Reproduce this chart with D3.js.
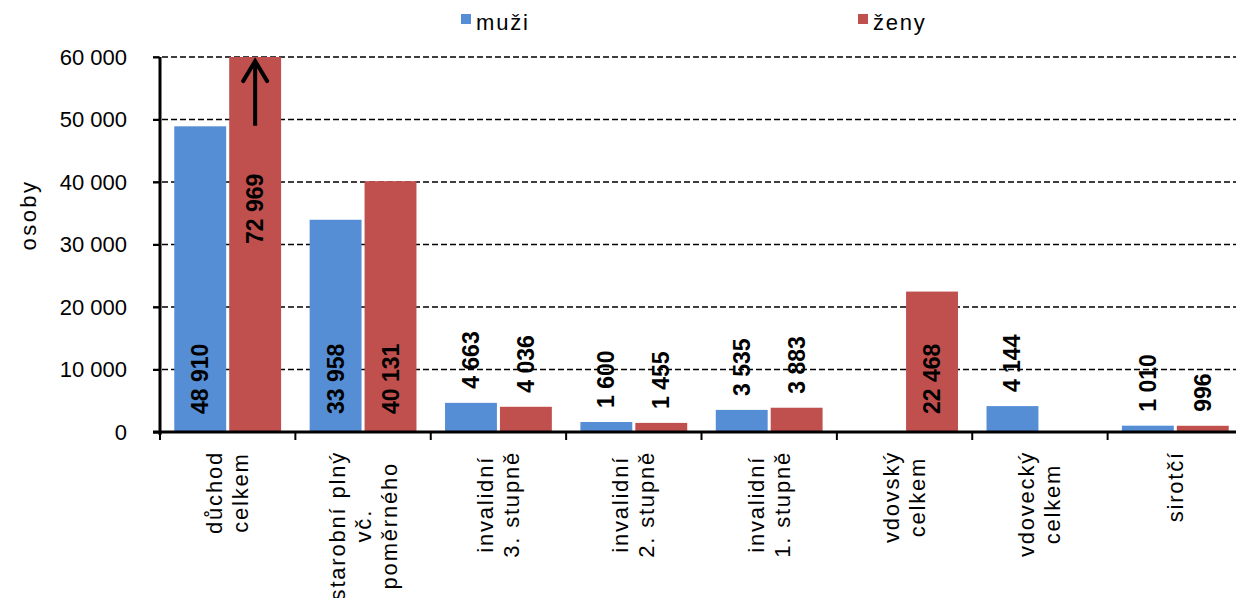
<!DOCTYPE html>
<html>
<head>
<meta charset="utf-8">
<script src="https://cdn.jsdelivr.net/npm/d3@7"></script>
<style>
  html, body { margin: 0; padding: 0; background: #fff; }
  svg { display: block; font-family: "Liberation Sans", Arial, sans-serif; }
</style>
</head>
<body>
<svg id="chart" width="1236" height="598"></svg>
<script>
// Pension recipients by type of pension, men vs women
const categories = [
  ["důchod", "celkem"],
  ["starobní plný", "vč.", "poměrného"],
  ["invalidní", "3. stupně"],
  ["invalidní", "2. stupně"],
  ["invalidní", "1. stupně"],
  ["vdovský", "celkem"],
  ["vdovecký", "celkem"],
  ["sirotčí"]
];
const seriesNames = ["muži", "ženy"];
const muzi = [48910, 33958, 4663, 1600, 3535, null, 4144, 1010];
const zeny = [72969, 40131, 4036, 1455, 3883, 22468, null, 996];
const yTicks = [0, 10000, 20000, 30000, 40000, 50000, 60000];
const yTitle = "osoby";

(function () {
const colors = { "muži": "#558ED5", "ženy": "#C0504D" };

const svg = d3.select("#chart");
const pLeft = 160, pRight = 1243, pTop = 57, pBottom = 432;

const cz = d3.formatLocale({ decimal: ",", thousands: " ", grouping: [3], currency: ["", " Kč"] });
const fmt = cz.format(",d");

const x0 = d3.scaleBand().domain(d3.range(categories.length)).range([pLeft, pRight]).padding(0);
const x1 = d3.scaleBand().domain(seriesNames).range([0, x0.bandwidth()])
  .paddingInner(0.055).paddingOuter(0.26);
const y = d3.scaleLinear().domain([0, 60000]).range([pBottom, pTop]);

const data = [];
categories.forEach((c, i) => {
  data.push({ i, s: "muži", v: muzi[i] });
  data.push({ i, s: "ženy", v: zeny[i] });
});
const present = data.filter(d => d.v != null);

// clip region: bars above the axis maximum are cut at the top
svg.append("defs").append("clipPath").attr("id", "plot-clip")
  .append("rect").attr("x", pLeft).attr("y", pTop).attr("width", pRight - pLeft).attr("height", pBottom - pTop);

// dashed horizontal gridlines
svg.append("g").selectAll("line").data(yTicks.filter(t => t > 0)).join("line")
  .attr("x1", pLeft - 7).attr("x2", pRight)
  .attr("y1", d => y(d)).attr("y2", d => y(d))
  .attr("stroke", "#000").attr("stroke-width", 1.6).attr("stroke-dasharray", "6,3");

// bars
svg.append("g").attr("clip-path", "url(#plot-clip)")
  .selectAll("rect").data(present).join("rect")
  .attr("x", d => x0(d.i) + x1(d.s))
  .attr("width", x1.bandwidth())
  .attr("y", d => y(d.v))
  .attr("height", d => y(0) - y(d.v))
  .attr("fill", d => colors[d.s]);

// y axis
const yAxis = d3.axisLeft(y).tickValues(yTicks).tickFormat(fmt).tickSize(7).tickPadding(26);
const gy = svg.append("g").attr("transform", `translate(${pLeft},0)`).call(yAxis);
gy.select(".domain").attr("stroke", "#000").attr("stroke-width", 3).attr("d", `M0,${pTop}V${pBottom + 3}`);
gy.selectAll(".tick line").attr("stroke", "#000").attr("stroke-width", 2);
gy.selectAll(".tick text").attr("font-size", 22).attr("fill", "#000")
  .attr("font-family", "Liberation Sans, Arial, sans-serif");

// x axis line and category boundary ticks
const gx = svg.append("g");
gx.append("line").attr("x1", pLeft - 7).attr("x2", pRight).attr("y1", pBottom).attr("y2", pBottom)
  .attr("stroke", "#000").attr("stroke-width", 3);
gx.selectAll("line.tk").data(d3.range(categories.length + 1)).join("line").attr("class", "tk")
  .attr("x1", d => pLeft + d * x0.step()).attr("x2", d => pLeft + d * x0.step())
  .attr("y1", pBottom).attr("y2", pBottom + 8)
  .attr("stroke", "#000").attr("stroke-width", 2);

// rotated multi-line category labels
const lineGap = 26;
categories.forEach((lines, i) => {
  const cx = x0(i) + x0.bandwidth() / 2;
  const g = svg.append("g");
  const texts = lines.map((t, k) => g.append("text")
    .text(t)
    .attr("font-size", 22).attr("letter-spacing", "1.8px")
    .attr("text-anchor", "middle").attr("dominant-baseline", "central"));
  const maxLen = d3.max(texts, t => t.node().getComputedTextLength());
  const cy = pBottom + 19 + maxLen / 2;
  texts.forEach((t, k) => {
    const lx = cx + (k - (lines.length - 1) / 2) * lineGap;
    t.attr("transform", `translate(${lx},${cy}) rotate(-90)`);
  });
});

// value labels (rotated, bold)
const axisMax = y.domain()[1];
svg.append("g").selectAll("text").data(present).join("text")
  .text(d => fmt(d.v))
  .attr("font-size", 23).attr("font-weight", "bold")
  .attr("dominant-baseline", "central")
  .attr("text-anchor", d => d.v > axisMax ? "middle" : "start")
  .attr("transform", d => {
    const bx = x0(d.i) + x1(d.s) + x1.bandwidth() / 2;
    let by;
    if (d.v > axisMax) by = y(35700);           // off-scale bar: label in the visible part
    else if (d.v > 15000) by = y(0) - 18;        // tall bars: label inside at the base
    else by = y(d.v) - 14;                        // short bars: label above the bar
    return `translate(${bx},${by}) rotate(-90)`;
  });

// arrow marking the off-scale bar
const over = present.filter(d => d.v > axisMax);
const arrowG = svg.append("g");
over.forEach(d => {
  const ax = x0(d.i) + x1(d.s) + x1.bandwidth() / 2;
  const yTip = y(59500), yTail = y(49000);
  arrowG.append("line").attr("x1", ax).attr("x2", ax).attr("y1", yTail).attr("y2", yTip + 1)
    .attr("stroke", "#000").attr("stroke-width", 4);
  arrowG.append("path")
    .attr("d", `M${ax - 12},${yTip + 21}L${ax},${yTip + 1}L${ax + 12},${yTip + 21}`)
    .attr("fill", "none").attr("stroke", "#000").attr("stroke-width", 4)
    .attr("stroke-linejoin", "miter").attr("stroke-linecap", "round");
});

// y axis title
svg.append("text").text(yTitle)
  .attr("font-size", 22).attr("letter-spacing", "2.5px")
  .attr("text-anchor", "middle").attr("dominant-baseline", "central")
  .attr("transform", `translate(28,215) rotate(-90)`);

// legend
const legendPos = [461, 858];
const lg = svg.append("g");
seriesNames.forEach((s, k) => {
  lg.append("rect").attr("x", legendPos[k]).attr("y", 14).attr("width", 10).attr("height", 10)
    .attr("fill", colors[s]);
  lg.append("text").text(s).attr("x", legendPos[k] + 15).attr("y", 30)
    .attr("font-size", 22).attr("letter-spacing", "1.8px");
});
})();
</script>
</body>
</html>
